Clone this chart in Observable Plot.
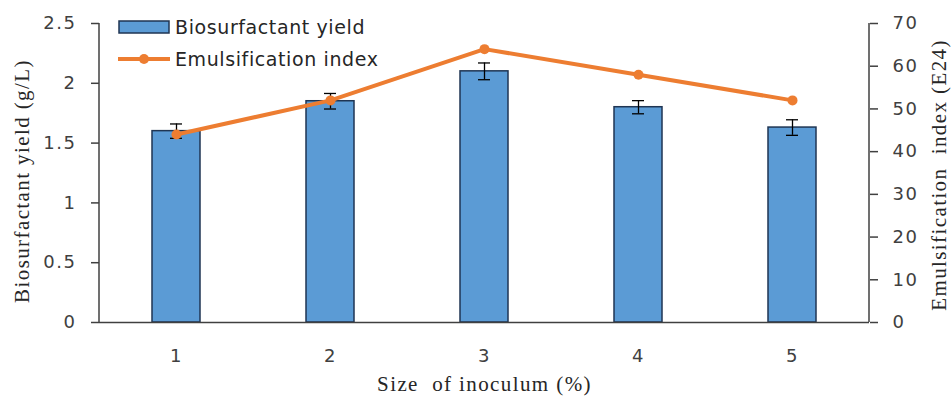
<!DOCTYPE html>
<html><head><meta charset="utf-8">
<script src="https://cdn.jsdelivr.net/npm/d3@7"></script>
<script src="https://cdn.jsdelivr.net/npm/@observablehq/plot@0.6"></script>
<style>
body{margin:0;background:#fff;}
#wrap{position:relative;width:952px;height:403px;}
#legend{position:absolute;left:118px;top:11px;font-family:"DejaVu Sans",sans-serif;font-size:19px;color:#262626;letter-spacing:0.6px;}
#legend div{display:flex;align-items:center;height:32px;}
#legend svg{margin-right:5px;}
g[aria-label$="tick label"] text{letter-spacing:1.5px;}
g[aria-label="text"] text{letter-spacing:1.4px;}
</style></head>
<body><div id="wrap"><div id="legend"></div></div>
<script>
const sizes = ["1", "2", "3", "4", "5"];
const yieldVals = [1.60, 1.85, 2.10, 1.80, 1.63];
const yieldErr = [0.06, 0.065, 0.07, 0.055, 0.065];
const e24Vals = [44, 52, 64, 58, 52];
const leftTicks = [0, 0.5, 1, 1.5, 2, 2.5];
const rightTicks = [0, 10, 20, 30, 40, 50, 60, 70];
const yMax = 2.5, rMax = 70;

const data = sizes.map((s, i) => ({
  size: s, y: yieldVals[i], lo: yieldVals[i] - yieldErr[i], hi: yieldVals[i] + yieldErr[i],
  e: e24Vals[i], eScaled: e24Vals[i] * yMax / rMax
}));

const W = 952, H = 403, mL = 99, mR = 83, mT = 23, mB = 81;
const barFill = "#5B9BD5", barStroke = "#1F3553", orange = "#ED7D31", axisCol = "#404040", tickText = "#404040";
const serif = "'Liberation Serif', 'Times New Roman', serif";

const chart = Plot.plot({
  width: W, height: H,
  marginLeft: mL, marginRight: mR, marginTop: mT, marginBottom: mB,
  style: {fontFamily: "'DejaVu Sans', sans-serif", fontSize: "18px", color: tickText, background: "#fff"},
  x: {type: "band", domain: sizes, paddingInner: 0.69, paddingOuter: 0.345},
  y: {domain: [0, yMax]},
  marks: [
    Plot.barY(data, {x: "size", y: "y", fill: barFill, stroke: barStroke, strokeWidth: 1.5}),
    Plot.ruleX(data, {x: "size", y1: "lo", y2: "hi", stroke: "#000", strokeWidth: 1.3}),
    Plot.tickY(data, {x: "size", y: "lo", stroke: "#000", strokeWidth: 1.3, inset: 18}),
    Plot.tickY(data, {x: "size", y: "hi", stroke: "#000", strokeWidth: 1.3, inset: 18}),
    Plot.line(data, {x: "size", y: "eScaled", stroke: orange, strokeWidth: 4}),
    Plot.dot(data, {x: "size", y: "eScaled", fill: orange, r: 5}),
    Plot.ruleY([0], {stroke: axisCol, strokeWidth: 1.5}),
    Plot.axisY(leftTicks, {anchor: "left", tickSize: 8, tickPadding: 15, stroke: axisCol, strokeWidth: 1.5, label: null, tickFormat: d => String(d)}),
    Plot.axisY(rightTicks.map(v => v * yMax / rMax), {anchor: "right", tickSize: 8, tickPadding: 15, stroke: axisCol, strokeWidth: 1.5, label: null, tickFormat: d => String(Math.round(d * rMax / yMax))}),
    Plot.axisX({tickSize: 0, tickPadding: 27, label: null}),
    Plot.text(["Size  of inoculum (%)"], {frameAnchor: "bottom", dy: 68, fontFamily: serif, fontSize: 21, fill: "#262626"}),
    Plot.text(["Biosurfactant yield (g/L)"], {frameAnchor: "left", textAnchor: "middle", dx: -77, dy: 8, rotate: -90, fontFamily: serif, fontSize: 21, fill: "#262626"}),
    Plot.text(["Emulsification  index (E24)"], {frameAnchor: "right", textAnchor: "middle", dx: 70, dy: 2, rotate: -90, fontFamily: serif, fontSize: 21, fill: "#262626"})
  ]
});

// vertical axis lines (left and right)
const svg = d3.select(chart);
[mL, W - mR].forEach(x => {
  svg.append("line").attr("x1", x).attr("x2", x).attr("y1", mT).attr("y2", H - mB)
    .attr("stroke", axisCol).attr("stroke-width", 1.5);
});
document.getElementById("wrap").prepend(chart);

const legend = document.getElementById("legend");
legend.innerHTML =
  `<div><svg width="52" height="16"><rect x="1" y="2" width="50" height="12" fill="${barFill}" stroke="${barStroke}" stroke-width="1.5"/></svg>Biosurfactant yield</div>` +
  `<div><svg width="52" height="16"><line x1="0" y1="8" x2="52" y2="8" stroke="${orange}" stroke-width="4"/><circle cx="26" cy="8" r="5" fill="${orange}"/></svg>Emulsification index</div>`;
</script></body></html>
